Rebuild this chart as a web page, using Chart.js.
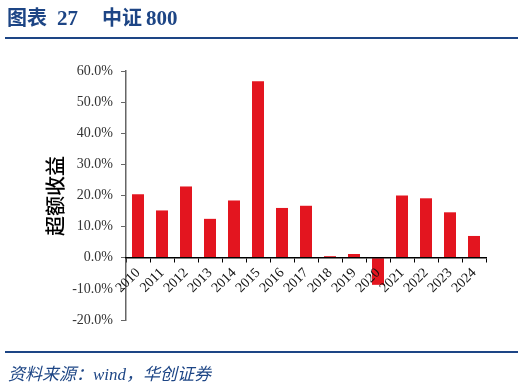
<!DOCTYPE html>
<html>
<head>
<meta charset="utf-8">
<script src="https://cdn.jsdelivr.net/npm/chart.js@4.4.1/dist/chart.umd.min.js"></script>
<style>
  html, body { margin: 0; padding: 0; background: #fff; }
  #wrap { position: relative; width: 524px; height: 387px; }
</style>
</head>
<body>
<div id="wrap"><canvas id="chart" width="524" height="387"></canvas></div>
<script>
// data
const years = ["2010", "2011", "2012", "2013", "2014", "2015", "2016", "2017",
  "2018", "2019", "2020", "2021", "2022", "2023", "2024"];
const excessReturn = [20.4, 15.2, 22.9, 12.5, 18.4, 56.7, 16.0, 16.7,
  0.5, 1.2, -8.7, 20.0, 19.1, 14.6, 7.0];
const yTicks = [-20, -10, 0, 10, 20, 30, 40, 50, 60];

const sourceText = "资料来源：wind，华创证券";
const yTitle = "超额收益";
const blue = "#1d4585";

// title, rules, source and the y axis title
const frame = {
  id: "frame",
  afterDraw(chart) {
    const ctx = chart.ctx;
    ctx.save();
    ctx.fillStyle = blue;
    ctx.textBaseline = "alphabetic";
    ctx.font = "bold 20px 'Noto Sans CJK SC'";
    ctx.fillText("图表", 7, 25);
    ctx.fillText("中证", 102, 25);
    ctx.font = "bold 21px 'Liberation Serif'";
    ctx.fillText("27", 57, 25);
    ctx.fillText("800", 146, 25);

    ctx.strokeStyle = blue;
    ctx.lineWidth = 2;
    ctx.beginPath();
    ctx.moveTo(5, 38); ctx.lineTo(518, 38);
    ctx.moveTo(5, 352); ctx.lineTo(518, 352);
    ctx.stroke();

    ctx.font = "italic 17px 'Liberation Serif', 'Noto Sans CJK SC'";
    ctx.fillText(sourceText, 8, 380);

    ctx.fillStyle = "#000";
    ctx.font = "500 20px 'Noto Sans CJK SC'";
    ctx.translate(55, 196);
    ctx.rotate(-Math.PI / 2);
    ctx.textAlign = "center";
    ctx.textBaseline = "middle";
    ctx.fillText(yTitle, 0, 0);
    ctx.restore();
  }
};

new Chart(document.getElementById("chart"), {
  type: "bar",
  data: {
    labels: years,
    datasets: [{
      label: yTitle,
      data: excessReturn,
      backgroundColor: "#e3151f",
      borderWidth: 0,
      barPercentage: 0.5,
      categoryPercentage: 1.0
    }]
  },
  options: {
    responsive: false,
    animation: false,
    layout: { padding: { top: 71, bottom: 67, left: 0, right: 38 } },
    plugins: { legend: { display: false }, tooltip: { enabled: false } },
    scales: {
      x: {
        position: { y: 0 },
        offset: true,
        grid: {
          display: true, drawOnChartArea: false, drawTicks: true,
          tickLength: 4, offset: true, color: "#000", lineWidth: 1
        },
        border: { display: true, color: "#000", width: 1.5, z: 1 },
        ticks: {
          z: 1,
          autoSkip: false,
          minRotation: 45, maxRotation: 45, padding: 3,
          color: "#111",
          font: { family: "'Liberation Serif'", size: 14 }
        }
      },
      y: {
        min: -20, max: 60,
        afterFit(scale) { scale.width = 126; },
        afterBuildTicks(scale) { scale.ticks = yTicks.map(v => ({ value: v })); },
        grid: {
          display: true, drawOnChartArea: false, drawTicks: true,
          tickLength: 5, color: "#666"
        },
        border: { display: true, color: "#666", width: 1.5 },
        ticks: {
          padding: 8,
          color: "#333",
          font: { family: "'Liberation Serif'", size: 14 },
          callback: v => v.toFixed(1) + "%"
        }
      }
    }
  },
  plugins: [frame]
});
</script>
</body>
</html>
